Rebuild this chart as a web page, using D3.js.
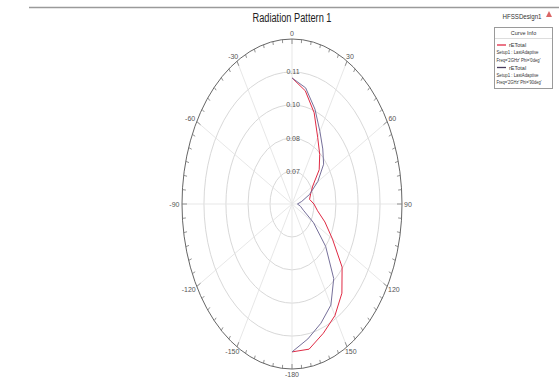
<!DOCTYPE html>
<html><head><meta charset="utf-8">
<script src="https://cdn.jsdelivr.net/npm/d3@7"></script>
<style>
html,body{margin:0;padding:0;background:#fff;}
text{font-family:"Liberation Sans Narrow","Arial Narrow","Liberation Sans",Arial,sans-serif;}
</style></head>
<body><svg id="c" width="559" height="385"></svg>
<script>
// ---- data ----
const thetas = [0,10,20,30,40,50,60,70,80,90,100,110,120,130,140,150,160,170,180];
const phi0 = [0.1076,0.1031,0.0959,0.0878,0.0828,0.0782,0.0712,0.0687,0.0675,0.0700,0.0724,0.0779,0.0850,0.0963,0.1037,0.1087,0.1122,0.1162,0.1164];
const phi90 = [0.1076,0.1043,0.0974,0.0905,0.0857,0.0817,0.0747,0.0680,0.0627,0.0600,0.0619,0.0640,0.0717,0.0833,0.0960,0.1038,0.1079,0.1120,0.1164];
const radialTicks = [0.07,0.0833,0.0967,0.11];
const radialDomain = [0.0567,0.1233];
const angleTicks = [0,30,60,90,120,150,180,-150,-120,-90,-60,-30];
const angleLabels = ["0","30","60","90","120","150","-180","-150","-120","-90","-60","-30"];
const seriesNames = ["rETotal","rETotal"];
const seriesSetup = ["Setup1 : LastAdaptive","Setup1 : LastAdaptive"];
const seriesFreq = ["Freq='2GHz' Phi='0deg'","Freq='2GHz' Phi='90deg'"];
const colors = ["#e02a44","#76709a"];

// ---- layout ----
const svg = d3.select("#c");
const cx = 292, cy = 204, rx = 110, ry = 165;
const rScale = d3.scaleLinear().domain(radialDomain).range([0,1]);
const sx = d3.scaleLinear().domain([-1,1]).range([cx-rx, cx+rx]);
const sy = d3.scaleLinear().domain([-1,1]).range([cy+ry, cy-ry]);
const rad = d => d*Math.PI/180;
const px = (deg, r) => sx(r*Math.sin(rad(deg)));
const py = (deg, r) => sy(r*Math.cos(rad(deg)));

// top line
svg.append("line").attr("x1",29).attr("x2",559).attr("y1",7.5).attr("y2",7.5)
  .attr("stroke","#9a9a9a").attr("stroke-width",1.3);

// title
svg.append("text").attr("x",292).attr("y",22).attr("text-anchor","middle")
  .attr("font-size",12.5).attr("fill","#222").attr("textLength",79).attr("lengthAdjust","spacingAndGlyphs")
  .text("Radiation Pattern 1");
svg.append("text").attr("x",522).attr("y",18.5).attr("text-anchor","middle")
  .attr("font-size",8).attr("fill","#333").attr("textLength",39).attr("lengthAdjust","spacingAndGlyphs")
  .text("HFSSDesign1");
svg.append("path").attr("d","M546,17 L549,11 L552,17 Z").attr("fill","#d04040").attr("opacity",0.8);

// rings
const g = svg.append("g");
radialTicks.forEach(v=>{
  const r = rScale(v);
  g.append("ellipse").attr("cx",cx).attr("cy",cy)
    .attr("rx",sx(r)-cx).attr("ry",cy-sy(r))
    .attr("fill","none").attr("stroke","#d4d4d4").attr("stroke-width",0.9);
});
// spokes
d3.range(0,360,30).forEach(a=>{
  g.append("line").attr("x1",px(a,0)).attr("y1",py(a,0))
    .attr("x2",px(a,1)).attr("y2",py(a,1))
    .attr("stroke","#e4e4e4").attr("stroke-width",0.9);
});
// outer
g.append("ellipse").attr("cx",cx).attr("cy",cy).attr("rx",rx).attr("ry",ry)
  .attr("fill","none").attr("stroke","#666").attr("stroke-width",1);
// ticks
d3.range(0,360,5).forEach(a=>{
  const x1=px(a,1), y1=py(a,1);
  const d=Math.hypot(x1-cx,y1-cy);
  const len = (a%30===0)?5:3.5;
  const r2 = 1-len/d;
  g.append("line").attr("x1",x1).attr("y1",y1).attr("x2",px(a,r2)).attr("y2",py(a,r2))
    .attr("stroke","#777").attr("stroke-width",0.8);
});
// angle labels
angleTicks.forEach((a,i)=>{
  const lbl = angleLabels[i];
  const w = lbl.length*3.4, h = 6;
  const s = Math.sin(rad(a)), c = Math.cos(rad(a));
  const x = px(a,1) + s*(2.5 + w/2);
  const y = py(a,1) - c*(2.5 + h/2);
  g.append("text").attr("x",x).attr("y",y).attr("text-anchor","middle")
    .attr("dominant-baseline","central").attr("font-size",7).attr("fill","#555").text(lbl);
});
// radial labels
const fmt = d3.format(".2f");
radialTicks.forEach(v=>{
  g.append("text").attr("x",cx+1).attr("y",py(0,rScale(v))).attr("text-anchor","middle")
    .attr("dominant-baseline","central").attr("font-size",7).attr("fill","#555").text(fmt(v));
});

// curves
const line = d3.line().x(d=>px(d[0],rScale(d[1]))).y(d=>py(d[0],rScale(d[1])));
[phi0,phi90].forEach((s,i)=>{
  g.append("path").attr("d",line(thetas.map((t,j)=>[t,s[j]])))
    .attr("fill","none").attr("stroke",colors[i]).attr("stroke-width",1);
});

// legend
const lg = svg.append("g");
lg.append("rect").attr("x",494.5).attr("y",27.5).attr("width",58).attr("height",61)
  .attr("fill","#fff").attr("stroke","#9a9a9a").attr("stroke-width",1);
lg.append("text").attr("x",523.5).attr("y",35).attr("text-anchor","middle").attr("font-size",5.5)
  .attr("fill","#333").text("Curve Info");
lg.append("line").attr("x1",495).attr("x2",552).attr("y1",38.5).attr("y2",38.5).attr("stroke","#ddd");
[0,1].forEach(i=>{
  const y0 = 45 + i*22.5;
  lg.append("line").attr("x1",497).attr("x2",506).attr("y1",y0).attr("y2",y0)
    .attr("stroke",i?"#4a3d5e":colors[i]).attr("stroke-width",1.3);
  lg.append("text").attr("x",509).attr("y",y0+2).attr("font-size",5.5).attr("fill","#333").text(seriesNames[i]);
  lg.append("text").attr("x",496.5).attr("y",y0+9).attr("font-size",5.5).attr("fill","#333")
    .attr("textLength",42).attr("lengthAdjust","spacingAndGlyphs").text(seriesSetup[i]);
  lg.append("text").attr("x",496.5).attr("y",y0+16.5).attr("font-size",5.5).attr("fill","#333")
    .attr("textLength",i?45:44).attr("lengthAdjust","spacingAndGlyphs").text(seriesFreq[i]);
});
</script></body></html>
